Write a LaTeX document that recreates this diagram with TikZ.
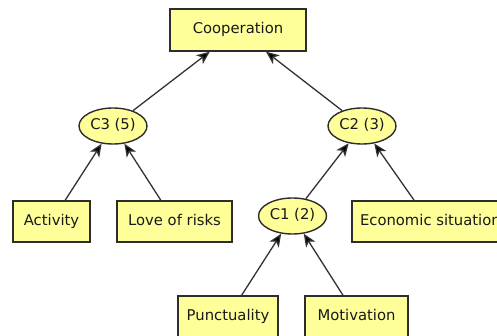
\documentclass[tikz,border=0pt]{standalone}
\usepackage{fontspec}
\setmainfont{DejaVu Sans}
\usetikzlibrary{arrows.meta,shapes.geometric}
\definecolor{fillyel}{RGB}{255,255,153}
\definecolor{bordc}{RGB}{45,45,45}
\definecolor{edgec}{RGB}{50,50,50}
\definecolor{txtc}{RGB}{25,25,25}
\tikzset{
  box/.style={draw=bordc, line width=1.4pt, fill=fillyel, rectangle, inner sep=0pt,
    minimum height=41pt, text=txtc, text height=11pt, text depth=3pt,
    font=\fontsize{14.8}{17}\selectfont},
  ell/.style={draw=bordc, line width=1.4pt, fill=fillyel, ellipse, inner sep=0pt,
    minimum width=68pt, minimum height=36pt, text=txtc, text height=11pt, text depth=3pt,
    font=\fontsize{14.8}{17}\selectfont},
  edge/.style={draw=edgec, line width=1.3pt, -{Stealth[length=13pt,width=11pt,inset=3.5pt,fill=black]}}
}
\begin{document}
\begin{tikzpicture}[x=1pt,y=-1pt]
\useasboundingbox (0,0) rectangle (497,336);
\clip (0,0) rectangle (497,336);
\node[box, minimum width=136pt, minimum height=42pt] (coop) at (238,30) {Cooperation};
\node[ell] (c3) at (113,126) {C3 (5)};
\node[ell] (c2) at (362,126) {C2 (3)};
\node[box, minimum width=77pt] (act) at (51.5,221.5) {Activity};
\node[box, minimum width=115pt] (love) at (174.5,221.5) {Love of risks};
\node[ell] (c1) at (292.5,216) {C1 (2)};
\node[box, minimum width=154pt] (econ) at (429,221.5) {\makebox[138pt][l]{Economic situation}};
\node[box, minimum width=100pt] (punct) at (228,316.5) {Punctuality};
\node[box, minimum width=103pt] (motiv) at (356.5,316.5) {Motivation};
\draw[edge] (c3) -- (coop);
\draw[edge] (c2) -- (coop);
\draw[edge] (act) -- (c3);
\draw[edge] (love) -- (c3);
\draw[edge] (c1) -- (c2);
\draw[edge] (econ) -- (c2);
\draw[edge] (punct) -- (c1);
\draw[edge] (motiv) -- (c1);
\end{tikzpicture}
\end{document}
